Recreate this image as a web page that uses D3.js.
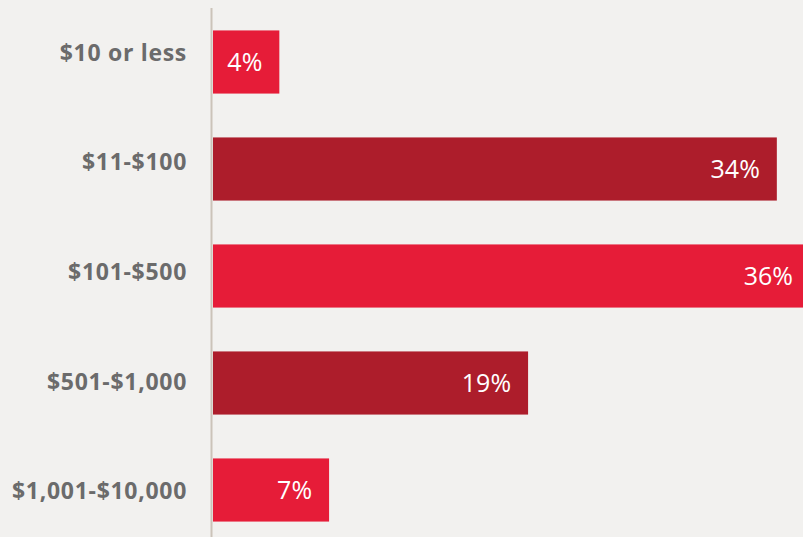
<!DOCTYPE html>
<html>
<head>
<meta charset="utf-8">
<script src="https://cdn.jsdelivr.net/npm/d3@7"></script>
<style>
  html, body { margin: 0; padding: 0; background: #f2f1ef; }
  svg { display: block; }
</style>
</head>
<body>
<svg id="chart" width="803" height="537"></svg>
<script>
// Share of donations by gift size
const categories = ["$10 or less", "$11-$100", "$101-$500", "$501-$1,000", "$1,001-$10,000"];
const values = [4, 34, 36, 19, 7];
const valueLabels = ["4%", "34%", "36%", "19%", "7%"];
const barColors = ["#e61c38", "#ad1d2b", "#e61c38", "#ad1d2b", "#e61c38"];

const width = 803, height = 537;
const svg = d3.select("#chart");

svg.append("rect").attr("width", width).attr("height", height).attr("fill", "#f2f1ef");

const x = d3.scaleLinear().domain([0, 36]).range([213, 810]);
const y = d3.scaleBand()
  .domain(categories)
  .range([8.5, 543.5])
  .paddingInner(0.41)
  .paddingOuter(0.205);
const yLabel = d3.scalePoint().domain(categories).range([52.5, 491]);

// bars
svg.append("g").selectAll("rect")
  .data(categories)
  .join("rect")
  .attr("x", x(0))
  .attr("y", d => y(d))
  .attr("width", (d, i) => x(values[i]) - x(0))
  .attr("height", y.bandwidth())
  .attr("fill", (d, i) => barColors[i]);

// vertical baseline
svg.append("line")
  .attr("x1", x(0) - 1.5).attr("x2", x(0) - 1.5)
  .attr("y1", 8).attr("y2", height)
  .attr("stroke", "#cbc3b9")
  .attr("stroke-width", 2);

// category labels
svg.append("g").selectAll("text")
  .data(categories)
  .join("text")
  .attr("x", 187)
  .attr("y", d => yLabel(d) + 8.3)
  .attr("text-anchor", "end")
  .attr("font-family", "'Open Sans', sans-serif")
  .attr("font-weight", 700)
  .attr("font-size", 23)
  .attr("letter-spacing", 0.7)
  .attr("fill", "#6b6b6b")
  .text(d => d);

// value labels inside bars
svg.append("g").selectAll("text")
  .data(categories)
  .join("text")
  .attr("x", (d, i) => x(values[i]) - 17)
  .attr("y", d => y(d) + y.bandwidth() / 2 + 9)
  .attr("text-anchor", "end")
  .attr("font-family", "'Open Sans', sans-serif")
  .attr("font-weight", 400)
  .attr("font-size", 25)
  .attr("fill", "#ffffff")
  .text((d, i) => valueLabels[i]);
</script>
</body>
</html>
